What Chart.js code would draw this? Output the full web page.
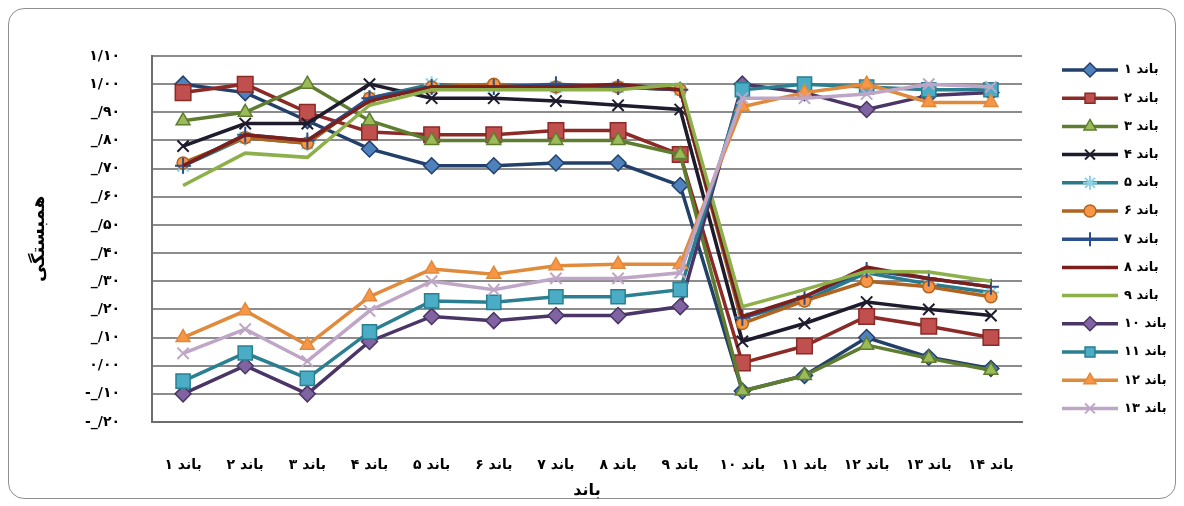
<!DOCTYPE html>
<html>
<head>
<meta charset="utf-8">
<script src="https://cdn.jsdelivr.net/npm/chart.js@4.4.0/dist/chart.umd.min.js"></script>
<style>
  html, body { margin: 0; padding: 0; background: #fff; }
  #wrap { position: relative; width: 1184px; height: 506px; }
  #frame { position: absolute; left: 8px; top: 8px; width: 1166px; height: 489px;
           border: 1.5px solid #8f8f8f; border-radius: 16px; }
  canvas { position: absolute; left: 0; top: 0; }
</style>
</head>
<body>
<div id="wrap">
  <div id="frame"></div>
  <canvas id="chart" width="1184" height="506"></canvas>
</div>
<script>
// categories on the x axis
const categories = ['باند ۱', 'باند ۲', 'باند ۳', 'باند ۴', 'باند ۵', 'باند ۶', 'باند ۷',
  'باند ۸', 'باند ۹', 'باند ۱۰', 'باند ۱۱', 'باند ۱۲', 'باند ۱۳', 'باند ۱۴'];

// series names (legend)
const seriesNames = ['باند ۱', 'باند ۲', 'باند ۳', 'باند ۴', 'باند ۵', 'باند ۶', 'باند ۷',
  'باند ۸', 'باند ۹', 'باند ۱۰', 'باند ۱۱', 'باند ۱۲', 'باند ۱۳'];

// y tick labels, top (1.10) to bottom (-0.20)
const yTickLabels = ['۱/۱۰', '۱/۰۰', '_/۹۰', '_/۸۰', '_/۷۰', '_/۶۰', '_/۵۰', '_/۴۰',
  '_/۳۰', '_/۲۰', '_/۱۰', '۰/۰۰', '-_/۱۰', '-_/۲۰'];

// correlation values
const band1  = [1.00, 0.97, 0.87, 0.77, 0.71, 0.71, 0.72, 0.72, 0.64, -0.09, -0.035, 0.10, 0.03, -0.01];
const band2  = [0.97, 1.00, 0.90, 0.83, 0.82, 0.82, 0.835, 0.835, 0.75, 0.01, 0.07, 0.175, 0.14, 0.10];
const band3  = [0.87, 0.90, 1.00, 0.87, 0.80, 0.80, 0.80, 0.80, 0.75, -0.09, -0.035, 0.073, 0.026, -0.016];
const band4  = [0.78, 0.86, 0.86, 1.00, 0.95, 0.95, 0.94, 0.925, 0.91, 0.086, 0.15, 0.226, 0.20, 0.178];
const band5  = [0.71, 0.81, 0.79, 0.95, 1.00, 0.99, 0.99, 0.99, 0.98, 0.17, 0.23, 0.33, 0.29, 0.26];
const band6  = [0.72, 0.81, 0.79, 0.95, 0.99, 1.00, 0.99, 0.99, 0.98, 0.15, 0.23, 0.30, 0.28, 0.245];
const band7  = [0.71, 0.82, 0.80, 0.95, 0.99, 0.99, 1.00, 0.99, 0.98, 0.17, 0.245, 0.34, 0.31, 0.28];
const band8  = [0.71, 0.82, 0.80, 0.94, 0.99, 0.99, 0.99, 1.00, 0.98, 0.175, 0.245, 0.35, 0.31, 0.28];
const band9  = [0.64, 0.755, 0.74, 0.925, 0.98, 0.98, 0.98, 0.98, 1.00, 0.21, 0.27, 0.335, 0.333, 0.30];
const band10 = [-0.10, 0.00, -0.10, 0.086, 0.175, 0.16, 0.178, 0.178, 0.21, 1.00, 0.97, 0.91, 0.96, 0.97];
const band11 = [-0.055, 0.045, -0.045, 0.12, 0.23, 0.225, 0.245, 0.245, 0.27, 0.98, 1.00, 0.99, 0.98, 0.98];
const band12 = [0.10, 0.195, 0.073, 0.245, 0.343, 0.325, 0.355, 0.36, 0.36, 0.92, 0.97, 1.00, 0.935, 0.935];
const band13 = [0.044, 0.13, 0.016, 0.195, 0.30, 0.27, 0.31, 0.31, 0.33, 0.95, 0.95, 0.965, 1.00, 0.99];

const seriesValues = [band1, band2, band3, band4, band5, band6, band7,
  band8, band9, band10, band11, band12, band13];

// line colour, marker fill, marker style, marker size
const seriesStyles = [
  { line: '#23406b', fill: '#4f81bd', marker: 'rectRot',  size: 8 },
  { line: '#8b2a27', fill: '#c0504d', marker: 'rect',     size: 11 },
  { line: '#5f7d30', fill: '#9bbb59', marker: 'triangle', size: 8 },
  { line: '#1e1b2c', fill: '#1e1b2c', marker: 'crossRot', size: 8 },
  { line: '#2b7a8c', fill: '#8fd3e6', marker: 'star',     size: 8 },
  { line: '#b0641f', fill: '#f79646', marker: 'circle',   size: 6 },
  { line: '#2a4f8a', fill: '#2a4f8a', marker: 'cross',    size: 8 },
  { line: '#7a1f1c', fill: '#7a1f1c', marker: 'circle',   size: 0 },
  { line: '#8db04a', fill: '#8db04a', marker: 'circle',   size: 0 },
  { line: '#4a3566', fill: '#8064a2', marker: 'rectRot',  size: 8 },
  { line: '#2a7f91', fill: '#4bacc6', marker: 'rect',     size: 10 },
  { line: '#e08a3c', fill: '#f79646', marker: 'triangle', size: 8 },
  { line: '#bfa6c6', fill: '#bfa6c6', marker: 'crossRot', size: 8 }
];

const isStroked = (m) => m === 'cross' || m === 'crossRot' || m === 'star';

const datasets = seriesValues.map((vals, i) => {
  const st = seriesStyles[i];
  return {
    label: seriesNames[i],
    data: vals,
    borderColor: st.line,
    borderWidth: 3.5,
    tension: 0,
    fill: false,
    pointStyle: st.marker,
    pointRadius: st.size,
    pointHoverRadius: st.size,
    pointBackgroundColor: st.fill,
    pointBorderColor: isStroked(st.marker) ? st.fill : st.line,
    pointBorderWidth: isStroked(st.marker) ? 2 : 1.5,
    order: seriesValues.length - i // later series on top, like Excel
  };
});

const FONT = "'DejaVu Sans', sans-serif";

// legend drawn as line + marker, next to the plot
const lineLegend = {
  id: 'lineLegend',
  afterDraw(chart) {
    const ctx = chart.ctx;
    const x0 = chart.chartArea.right + 40;
    ctx.save();
    chart.data.datasets.forEach((ds, i) => {
      const y = 70 + i * 28.2;
      ctx.strokeStyle = ds.borderColor;
      ctx.lineWidth = 3.5;
      ctx.beginPath();
      ctx.moveTo(x0, y);
      ctx.lineTo(x0 + 56, y);
      ctx.stroke();
      if (ds.pointRadius > 0) {
        ctx.fillStyle = ds.pointBackgroundColor;
        ctx.strokeStyle = ds.pointBorderColor;
        ctx.lineWidth = ds.pointBorderWidth;
        Chart.helpers.drawPoint(ctx, {
          pointStyle: ds.pointStyle,
          radius: Math.min(ds.pointRadius, 7),
          rotation: 0,
          borderWidth: ds.pointBorderWidth
        }, x0 + 28, y);
      }
      ctx.fillStyle = '#000';
      ctx.font = 'bold 13px ' + FONT;
      ctx.textAlign = 'left';
      ctx.textBaseline = 'middle';
      ctx.fillText(ds.label, x0 + 62, y);
    });
    ctx.restore();
  }
};

new Chart(document.getElementById('chart'), {
  type: 'line',
  data: { labels: categories, datasets: datasets },
  plugins: [lineLegend],
  options: {
    responsive: false,
    animation: false,
    events: [],
    layout: { padding: { left: 29, right: 162, top: 56, bottom: 6 } },
    plugins: {
      legend: { display: false },
      tooltip: { enabled: false }
    },
    scales: {
      x: {
        offset: true,
        grid: { display: false, drawTicks: false },
        border: { display: true, color: '#6d6d6d', width: 2 },
        ticks: {
          color: '#000',
          padding: 35,
          maxRotation: 0,
          autoSkip: false,
          font: { family: FONT, size: 14, weight: 'bold' }
        },
        title: {
          display: true,
          text: 'باند',
          color: '#000',
          padding: 0,
          font: { family: FONT, size: 16, weight: 'bold' }
        },
        afterFit: (s) => { s.height = 78; }
      },
      y: {
        min: -0.2,
        max: 1.1,
        grid: { color: '#8c8c8c', lineWidth: 2, drawTicks: false },
        border: { display: true, color: '#6d6d6d', width: 2 },
        ticks: {
          stepSize: 0.1,
          padding: 32,
          color: '#000',
          font: { family: FONT, size: 14, weight: 'bold' },
          callback: (v) => yTickLabels[Math.round((1.1 - v) * 10)]
        },
        title: {
          display: true,
          text: 'همبستگی',
          color: '#000',
          padding: 0,
          font: { family: FONT, size: 18, weight: 'bold' }
        },
        afterFit: (s) => { s.width = 123; }
      }
    }
  }
});
</script>
</body>
</html>
